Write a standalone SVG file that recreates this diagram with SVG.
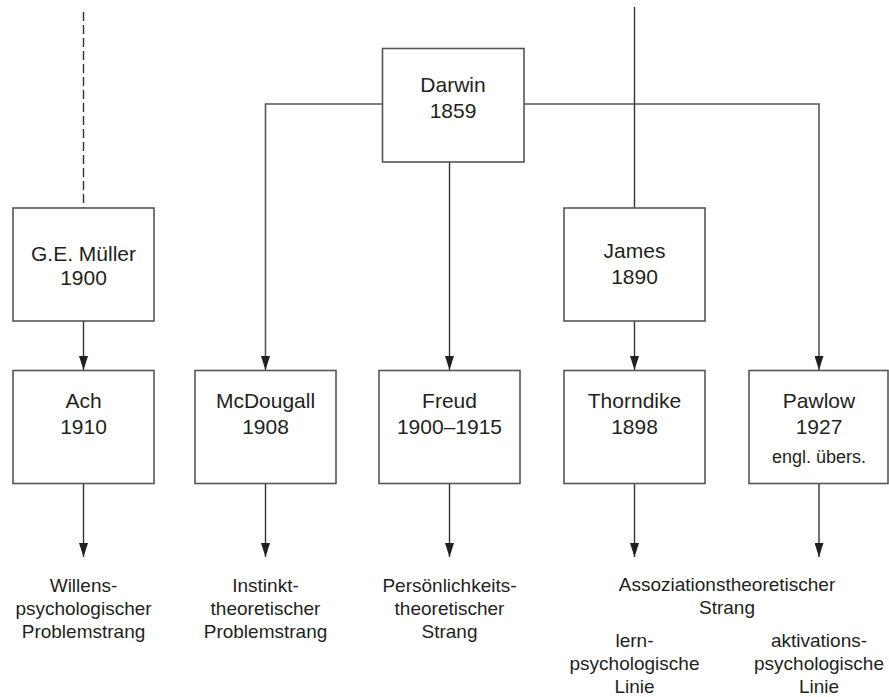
<svg xmlns="http://www.w3.org/2000/svg" width="889" height="697" viewBox="0 0 889 697">
<defs>
<marker id="ah" viewBox="0 0 14 9" refX="14" refY="4.5" markerWidth="14" markerHeight="9" markerUnits="userSpaceOnUse" orient="auto">
<path d="M0,0 L14,4.5 L0,9 z" fill="#231f20"/>
</marker>
<style>
.box{fill:#fff;stroke:#555;stroke-width:1.6}
.ln{fill:none;stroke:#333;stroke-width:1.4}
.t{font-family:"Liberation Sans",Arial,sans-serif;font-size:21px;fill:#231f20;text-anchor:middle}
.s{font-family:"Liberation Sans",Arial,sans-serif;font-size:18px;fill:#231f20;text-anchor:middle}
.b{font-family:"Liberation Sans",Arial,sans-serif;font-size:19px;fill:#231f20;text-anchor:middle}
</style>
</defs>
<rect width="889" height="697" fill="#fff"/>
<g id="connectors">
<line class="ln" x1="83.5" y1="12" x2="83.5" y2="208" stroke-dasharray="9,4"/>
<line class="ln" x1="634.5" y1="7" x2="634.5" y2="208"/>
<line class="ln" x1="83.5" y1="321" x2="83.5" y2="370" marker-end="url(#ah)"/>
<path class="ln" d="M382.5,104 H265.5 V370" marker-end="url(#ah)" style="stroke:#555;stroke-width:1.6"/>
<path class="ln" d="M524,104 H819 V370" marker-end="url(#ah)" style="stroke:#555;stroke-width:1.6"/>
<line class="ln" x1="449.5" y1="162" x2="449.5" y2="370" marker-end="url(#ah)"/>
<line class="ln" x1="634.5" y1="321" x2="634.5" y2="370" marker-end="url(#ah)"/>
<line class="ln" x1="83.5" y1="484" x2="83.5" y2="557" marker-end="url(#ah)"/>
<line class="ln" x1="265.5" y1="484" x2="265.5" y2="557" marker-end="url(#ah)"/>
<line class="ln" x1="449.5" y1="484" x2="449.5" y2="557" marker-end="url(#ah)"/>
<line class="ln" x1="634.5" y1="484" x2="634.5" y2="557" marker-end="url(#ah)"/>
<line class="ln" x1="819" y1="484" x2="819" y2="557" marker-end="url(#ah)"/>
</g>
<g id="darwin">
<rect class="box" x="382.5" y="48.5" width="141.5" height="113.5"/>
<text class="t" x="453" y="92">Darwin</text>
<text class="t" x="453" y="118">1859</text>
</g>
<g id="mueller">
<rect class="box" x="13" y="208" width="141" height="113"/>
<text class="t" x="83.5" y="261">G.E. Müller</text>
<text class="t" x="83.5" y="285">1900</text>
</g>
<g id="james">
<rect class="box" x="564" y="208" width="141" height="113"/>
<text class="t" x="634.5" y="258">James</text>
<text class="t" x="634.5" y="284">1890</text>
</g>
<g id="ach">
<rect class="box" x="13" y="370.5" width="141" height="113"/>
<text class="t" x="83.5" y="408">Ach</text>
<text class="t" x="83.5" y="434">1910</text>
</g>
<g id="mcdougall">
<rect class="box" x="195" y="370.5" width="141" height="113"/>
<text class="t" x="265.5" y="408">McDougall</text>
<text class="t" x="265.5" y="434">1908</text>
</g>
<g id="freud">
<rect class="box" x="379" y="370.5" width="141" height="113"/>
<text class="t" x="449.5" y="408">Freud</text>
<text class="t" x="449.5" y="434">1900–1915</text>
</g>
<g id="thorndike">
<rect class="box" x="564" y="370.5" width="141" height="113"/>
<text class="t" x="634.5" y="408">Thorndike</text>
<text class="t" x="634.5" y="434">1898</text>
</g>
<g id="pawlow">
<rect class="box" x="749" y="370.5" width="139" height="113"/>
<text class="t" x="819" y="408">Pawlow</text>
<text class="t" x="819" y="434">1927</text>
<text class="s" x="819" y="463">engl. übers.</text>
</g>
<g id="labels">
<text class="b" x="83.5" y="592">Willens-</text>
<text class="b" x="83.5" y="615">psychologischer</text>
<text class="b" x="83.5" y="638">Problemstrang</text>
<text class="b" x="265.5" y="592">Instinkt-</text>
<text class="b" x="265.5" y="615">theoretischer</text>
<text class="b" x="265.5" y="638">Problemstrang</text>
<text class="b" x="449.5" y="592">Persönlichkeits-</text>
<text class="b" x="449.5" y="615">theoretischer</text>
<text class="b" x="449.5" y="638">Strang</text>
<text class="b" x="727" y="591">Assoziationstheoretischer</text>
<text class="b" x="727" y="614">Strang</text>
<text class="b" x="634.5" y="647">lern-</text>
<text class="b" x="634.5" y="670">psychologische</text>
<text class="b" x="634.5" y="693">Linie</text>
<text class="b" x="819" y="647">aktivations-</text>
<text class="b" x="819" y="670">psychologische</text>
<text class="b" x="819" y="693">Linie</text>
</g>
</svg>
